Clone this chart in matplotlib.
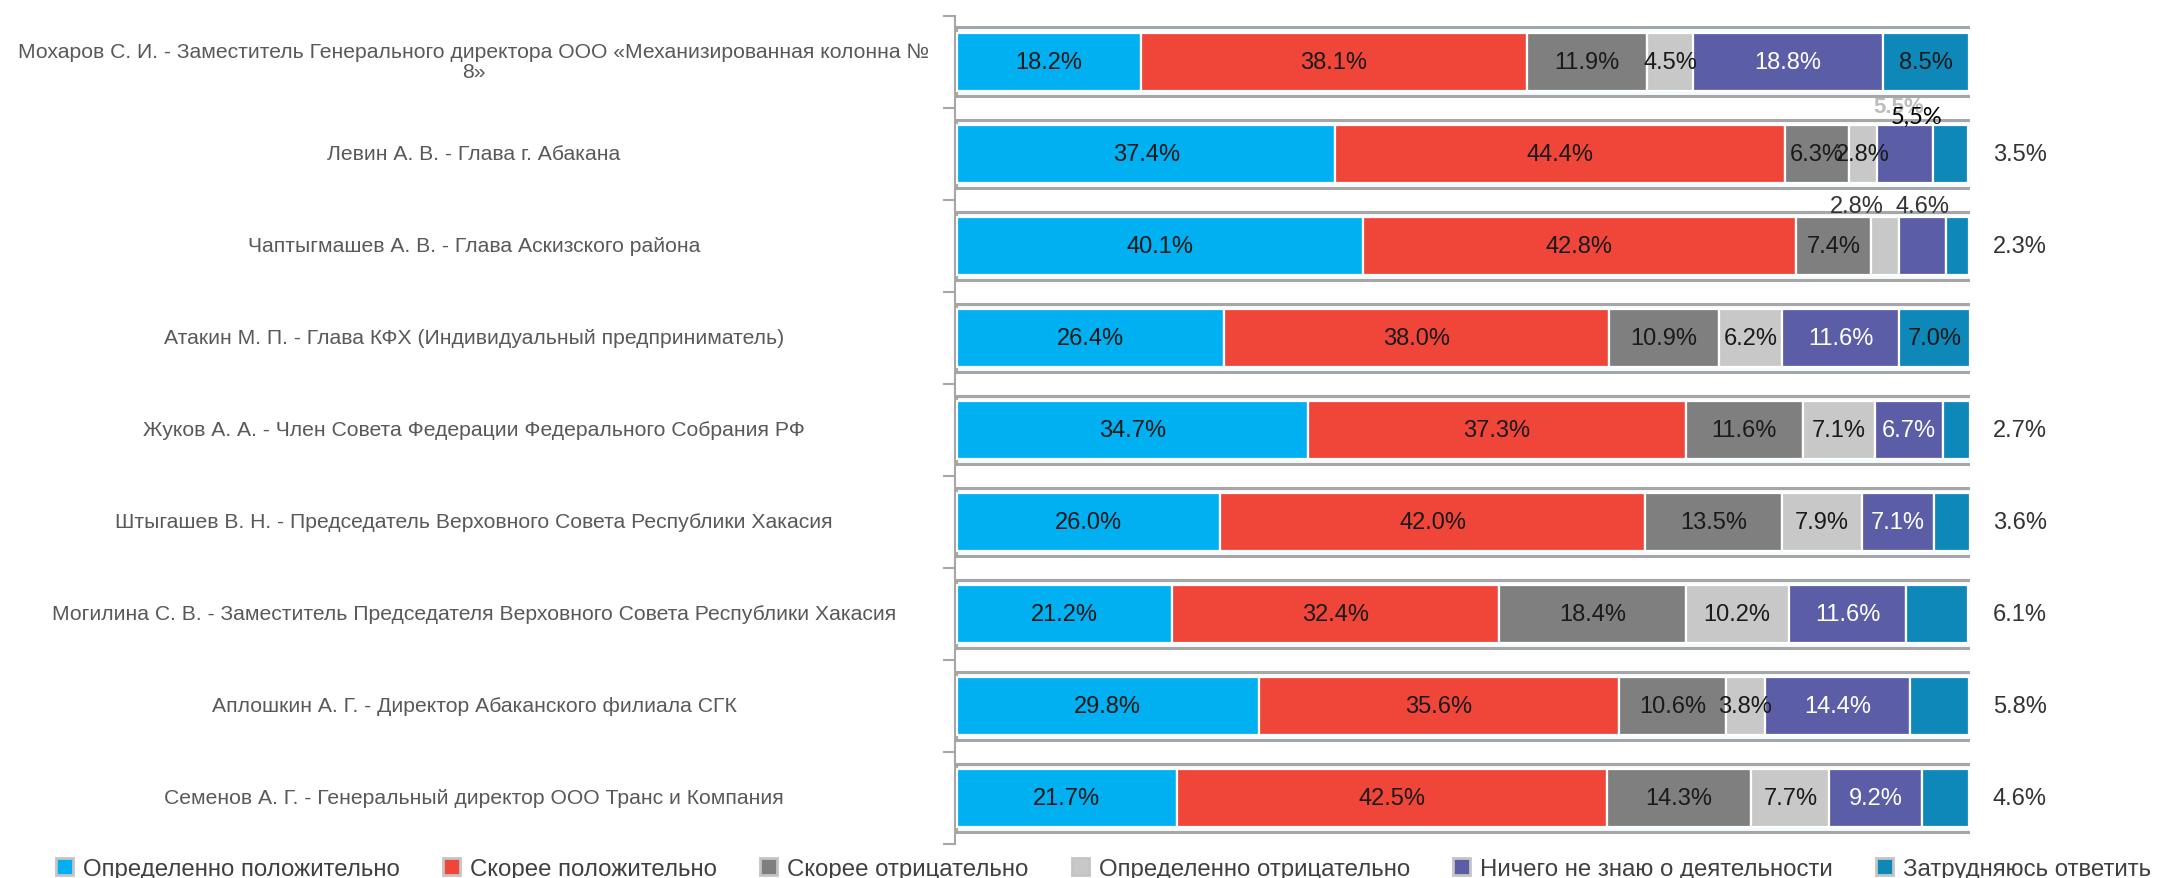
import matplotlib.pyplot as plt
from matplotlib.patches import Patch
from matplotlib.transforms import blended_transform_factory
import numpy as np

plt.rcParams['font.family'] = ['Liberation Sans', 'DejaVu Sans']

people = [
    "Мохаров С. И. - Заместитель Генерального директора ООО «Механизированная колонна №\n8»",
    "Левин А. В. - Глава г. Абакана",
    "Чаптыгмашев А. В. - Глава Аскизского района",
    "Атакин М. П. - Глава КФХ (Индивидуальный предприниматель)",
    "Жуков А. А. - Член Совета Федерации Федерального Собрания РФ",
    "Штыгашев В. Н. - Председатель Верховного Совета Республики Хакасия",
    "Могилина С. В. - Заместитель Председателя Верховного Совета Республики Хакасия",
    "Аплошкин А. Г. - Директор Абаканского филиала СГК",
    "Семенов А. Г. - Генеральный директор ООО Транс и Компания",
]

answers = ["Определенно положительно", "Скорее положительно", "Скорее отрицательно",
           "Определенно отрицательно", "Ничего не знаю о деятельности", "Затрудняюсь ответить"]

definitely_pos = [18.2, 37.4, 40.1, 26.4, 34.7, 26.0, 21.2, 29.8, 21.7]
rather_pos = [38.1, 44.4, 42.8, 38.0, 37.3, 42.0, 32.4, 35.6, 42.5]
rather_neg = [11.9, 6.3, 7.4, 10.9, 11.6, 13.5, 18.4, 10.6, 14.3]
definitely_neg = [4.5, 2.8, 2.8, 6.2, 7.1, 7.9, 10.2, 3.8, 7.7]
know_nothing = [18.8, 5.5, 4.6, 11.6, 6.7, 7.1, 11.6, 14.4, 9.2]
hard_to_say = [8.5, 3.5, 2.3, 7.0, 2.7, 3.6, 6.1, 5.8, 4.6]

series = [definitely_pos, rather_pos, rather_neg, definitely_neg, know_nothing, hard_to_say]
colors = ['#00B0F0', '#F0463A', '#7F7F7F', '#C8C8C8', '#5B5EA6', '#0E87B9']
txt_colors = ['#1A1A1A', '#1A1A1A', '#1A1A1A', '#1A1A1A', 'white', '#1A1A1A']

W, H = 2173, 879
fig = plt.figure(figsize=(W / 100, H / 100), dpi=100)
ax = fig.add_axes([955 / W, 1 - 845 / H, (1970 - 955) / W, (845 - 16.5) / H])

y = np.arange(len(people))
data = np.array(series)
cum = np.vstack([np.zeros(len(people)), np.cumsum(data, axis=0)[:-1]])

# outer frame of every bar
ax.barh(y, 100.5, left=-0.15, height=0.74, color='#F4FAFD', edgecolor='#A6A6A6',
        linewidth=2.2, zorder=1)

for k in range(len(series)):
    ax.barh(y, data[k], left=cum[k], height=0.63, color=colors[k],
            edgecolor='white', linewidth=1.6, zorder=2)

# label placement tweaks (row, series) -> (dx, dy)
moved = {(2, 3): (-2.8, -0.43), (2, 4): (0.0, -0.43)}

for i in range(len(people)):
    for k in range(len(series)):
        v = data[k, i]
        xc = cum[k, i] + v / 2
        yc = i
        col = txt_colors[k]
        if (i, k) == (1, 4):
            # overlapped label pair drawn above the bar
            ax.text(xc - 0.6, i - 0.51, "5.5%", ha='center', va='center', fontsize=16,
                    color='#BDBDBD', fontweight='bold', zorder=3, clip_on=False)
            ax.text(xc + 1.2, i - 0.40, "5,5%", ha='center', va='center', fontsize=17,
                    color='black', family=['Lato', 'DejaVu Sans'], zorder=4, clip_on=False)
            continue
        if k == 5 and v < 7:
            xc = 105.0
            col = '#333333'
        if (i, k) in moved:
            dx, dy = moved[(i, k)]
            xc += dx
            yc += dy
            col = '#333333'
        ax.text(xc, yc, f"{v:.1f}%", ha='center', va='center', fontsize=17,
                color=col, zorder=3, clip_on=False)

trans = blended_transform_factory(fig.transFigure, ax.transData)
for i, name in enumerate(people):
    ax.text(474 / W, i, name, ha='center', va='center', transform=trans,
            fontsize=15.2, color='#595959', linespacing=1.05)

ax.set_xlim(-0.2, 100.1)
ax.set_ylim(len(people) - 0.5, -0.5)
ax.set_yticks(np.arange(-0.5, len(people), 1))
ax.set_yticklabels([])
ax.tick_params(axis='y', length=9, width=1.5, color='#A6A6A6', direction='out')
ax.xaxis.set_visible(False)
for s in ['top', 'right', 'bottom']:
    ax.spines[s].set_visible(False)
ax.spines['left'].set_color('#A6A6A6')
ax.spines['left'].set_linewidth(1.5)
ax.patch.set_visible(False)

handles = [Patch(facecolor=c, edgecolor='#C4C4C4', linewidth=2) for c in colors]
fig.legend(handles, answers, loc='center left', bbox_to_anchor=(56 / W, 9 / H),
           ncol=6, frameon=False, fontsize=17.3, handlelength=0.72, handleheight=0.72,
           handletextpad=0.4, columnspacing=1.8, borderpad=0, borderaxespad=0,
           labelcolor='#404040')

fig.savefig("out.png", dpi=100)
